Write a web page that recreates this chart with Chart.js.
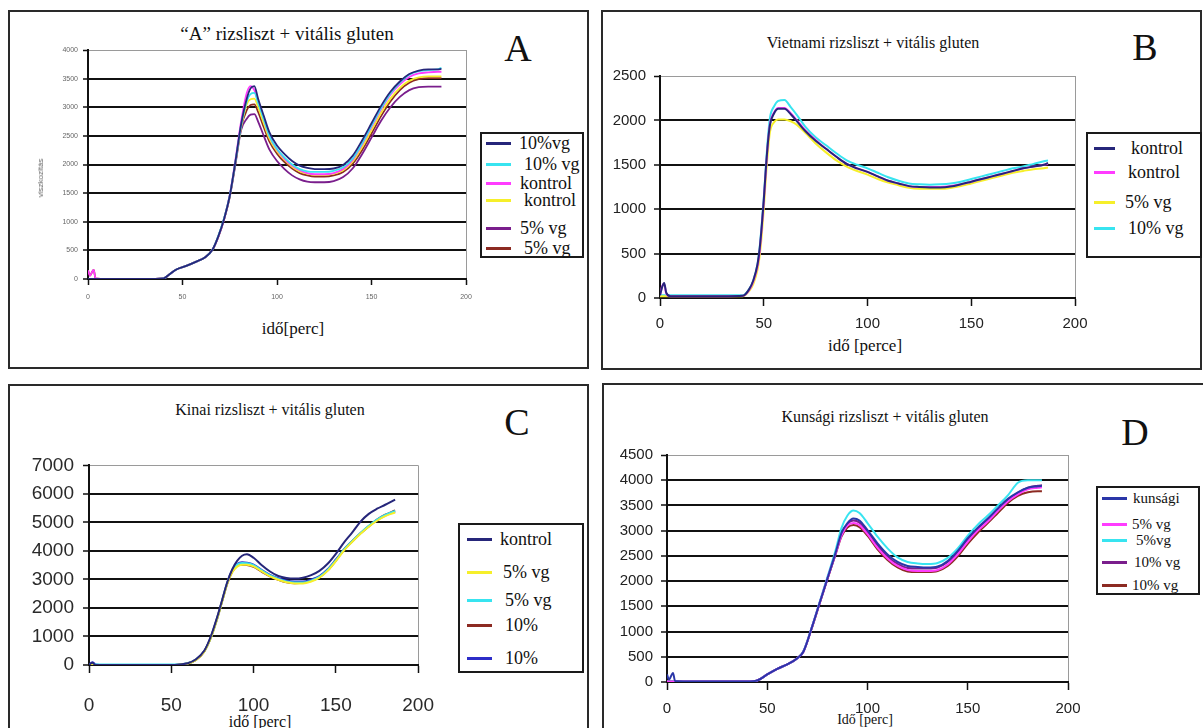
<!DOCTYPE html>
<html><head><meta charset="utf-8">
<script src="https://cdn.jsdelivr.net/npm/chart.js@4.4.1/dist/chart.umd.min.js"></script>
<style>
body{margin:0;width:1203px;height:728px;background:#fff;position:relative;overflow:hidden;font-family:"Liberation Serif","DejaVu Serif","Times New Roman",serif;}
.frame{position:absolute;border:2px solid #2a2a2a;box-sizing:border-box;}
.t{position:absolute;white-space:nowrap;color:#111;transform:translate(-50%,-50%);line-height:1;font-family:"Liberation Serif","DejaVu Serif",serif;}
canvas{position:absolute;}
.leg{position:absolute;border:2px solid #1a1a1a;background:#fff;box-sizing:border-box;}
.li{position:absolute;white-space:nowrap;line-height:1;color:#111;font-family:"Liberation Serif","DejaVu Serif",serif;}
.ln{position:absolute;height:3px;}
</style></head><body>
<div class="frame" style="left:8px;top:10px;width:581px;height:359px"></div>
<div class="frame" style="left:601px;top:10px;width:601px;height:360px"></div>
<div class="frame" style="left:8px;top:384px;width:581px;height:400px"></div>
<div class="frame" style="left:602px;top:383px;width:610px;height:400px"></div>
<div id="host"></div>
<script>
// ---------- DATA ----------
// Panel A
const xA = [0,1,3,4,10,20,30,40,43,47,52,57,62,66,69,72,75,78,81,84,86,88,90,93,96,100,104,108,112,116,120,125,130,135,140,145,150,155,160,165,170,175,180,185,187];
const aVg10a   = [0,0,0,0,0,0,0,10,80,170,230,300,380,520,750,1050,1450,2050,2700,3150,3330,3370,3150,2850,2560,2330,2180,2060,1980,1940,1920,1920,1930,1990,2150,2420,2720,3020,3270,3450,3580,3640,3660,3660,3670];
const aVg10b   = [0,0,0,0,0,0,0,10,80,170,230,300,380,520,760,1060,1460,2050,2680,3100,3230,3250,3080,2790,2500,2270,2120,2000,1920,1880,1870,1870,1890,1950,2100,2370,2680,2980,3240,3430,3570,3630,3650,3660,3690];
const aKontrolA= [150,60,160,10,0,0,0,10,80,170,230,300,380,520,750,1050,1470,2080,2750,3250,3370,3300,3100,2800,2500,2260,2100,1980,1900,1850,1830,1830,1850,1920,2080,2350,2660,2960,3220,3400,3530,3590,3610,3620,3620];
const aKontrolB= [0,0,0,0,0,0,0,10,80,170,230,300,380,520,750,1050,1450,2040,2650,3050,3140,3150,3000,2720,2450,2230,2080,1960,1880,1840,1820,1820,1840,1900,2050,2300,2600,2900,3150,3340,3460,3520,3540,3540,3540];
const aVg5a    = [0,0,0,0,0,0,0,10,80,170,230,300,380,520,740,1040,1430,2000,2600,2800,2870,2880,2750,2500,2260,2060,1920,1810,1740,1700,1690,1690,1710,1780,1930,2180,2470,2760,3000,3180,3300,3350,3360,3360,3360];
const aVg5b    = [150,60,160,10,0,0,0,10,80,170,230,300,380,520,750,1050,1450,2030,2650,2950,3040,3050,2920,2650,2400,2190,2040,1930,1850,1810,1790,1790,1810,1870,2010,2250,2540,2840,3100,3300,3430,3490,3510,3510,3510];
const labelsA = ['10%vg','10% vg','kontrol','kontrol','5% vg','5% vg'];
const ticksA = [0,500,1000,1500,2000,2500,3000,3500,4000];

// Panel B
const xB = [0,1,2,3,5,10,20,30,40,43,45,47,48,49,50,51,52,53,55,57,60,63,66,70,75,80,85,90,95,100,105,110,115,120,125,130,135,140,145,150,155,160,165,170,175,180,185,187];
const bKontrolA = [30,120,170,60,20,20,20,20,25,100,200,380,550,800,1100,1450,1750,1950,2080,2130,2130,2070,1990,1880,1770,1680,1590,1510,1460,1420,1370,1320,1290,1260,1250,1245,1245,1255,1280,1310,1340,1370,1400,1430,1460,1480,1500,1520];
const bKontrolB = [30,130,160,50,20,20,20,20,25,90,190,360,520,780,1080,1430,1740,1960,2090,2140,2140,2080,2000,1890,1780,1680,1590,1510,1460,1420,1370,1320,1290,1260,1250,1250,1250,1260,1280,1310,1340,1370,1400,1430,1460,1480,1500,1510];
const bVg5 = [20,20,20,20,20,20,20,20,20,80,160,320,470,700,1000,1350,1650,1870,1980,2010,2010,1990,1950,1860,1740,1640,1550,1480,1430,1390,1340,1300,1270,1240,1230,1230,1230,1240,1260,1290,1320,1350,1380,1410,1430,1450,1460,1470];
const bVg10 = [30,30,30,30,30,30,30,30,30,100,200,380,560,820,1120,1480,1800,2030,2160,2220,2230,2150,2060,1930,1810,1720,1630,1550,1500,1460,1410,1360,1320,1290,1280,1275,1280,1290,1310,1340,1370,1400,1430,1460,1480,1510,1540,1550];
const labelsB = ['kontrol','kontrol','5% vg','10% vg'];
const ticksB = [0,500,1000,1500,2000,2500];

// Panel C
const xC = [0,2,4,10,20,30,40,50,55,60,65,70,74,78,81,84,87,90,93,96,100,105,110,115,120,125,130,135,140,145,150,155,160,165,170,175,180,186];
const cKontrol = [0,80,0,0,0,0,0,0,20,60,200,500,1000,1700,2300,2900,3350,3650,3830,3880,3760,3500,3280,3120,3050,3030,3060,3150,3300,3550,3900,4300,4650,5030,5300,5480,5620,5800];
const cVg5a = [0,0,0,0,0,0,0,0,10,50,180,470,950,1650,2250,2850,3250,3450,3520,3520,3460,3280,3110,2990,2900,2860,2860,2930,3060,3300,3640,4020,4320,4600,4850,5060,5220,5350];
const cVg5b = [20,20,20,20,20,20,20,20,20,60,190,480,960,1660,2270,2880,3300,3520,3580,3570,3500,3310,3140,3020,2930,2890,2890,2960,3090,3330,3670,4050,4350,4630,4880,5100,5260,5400];
const cVg10a = [0,0,0,0,0,0,0,0,10,50,180,470,950,1640,2250,2850,3260,3470,3520,3510,3440,3270,3110,2990,2900,2870,2880,2950,3080,3320,3660,4040,4340,4620,4870,5100,5270,5420];
const cVg10b = [0,100,20,0,0,0,0,0,20,60,190,480,980,1680,2280,2880,3320,3540,3600,3590,3520,3330,3160,3040,2960,2930,2930,3000,3120,3360,3700,4060,4350,4620,4860,5080,5240,5380];
const labelsC = ['kontrol','5% vg','5% vg','10%','10%'];
const ticksC = [0,1000,2000,3000,4000,5000,6000,7000];

// Panel D
const xD = [0,1,3,4,10,20,30,40,45,50,55,60,65,68,72,76,80,84,87,90,93,96,100,105,110,115,120,125,130,135,140,145,150,155,160,165,170,175,180,185,187];
const dKunsagi = [150,50,180,20,10,10,10,10,30,150,260,350,470,600,1050,1550,2050,2550,2950,3150,3240,3200,3010,2750,2530,2380,2300,2280,2270,2290,2400,2600,2850,3060,3240,3440,3630,3760,3850,3880,3890];
const dVg5a = [10,10,10,10,10,10,10,10,30,150,260,350,470,600,1050,1550,2050,2530,2900,3100,3150,3110,2930,2660,2450,2300,2220,2200,2200,2220,2330,2530,2780,3000,3180,3390,3580,3720,3820,3850,3860];
const dVg5b = [10,10,10,10,10,10,10,10,30,150,260,350,470,610,1060,1570,2080,2600,3050,3300,3400,3350,3150,2880,2650,2470,2380,2350,2340,2360,2460,2650,2900,3120,3300,3500,3700,3950,4000,4000,4000];
const dVg10a = [10,10,10,10,10,10,10,10,30,150,260,350,470,600,1050,1550,2050,2540,2930,3130,3200,3160,2980,2710,2490,2340,2260,2250,2250,2270,2380,2570,2820,3040,3220,3420,3610,3750,3850,3890,3900];
const dVg10b = [10,10,10,10,10,10,10,10,30,150,260,350,470,600,1040,1540,2040,2520,2880,3060,3110,3070,2900,2630,2420,2270,2190,2180,2180,2200,2300,2490,2740,2960,3150,3350,3550,3690,3760,3780,3780];
const labelsD = ['kunsági','5% vg','5%vg','10% vg','10% vg'];
const ticksD = [0,500,1000,1500,2000,2500,3000,3500,4000,4500];

const xTicks = [0,50,100,150,200];

// ---------- LAYOUT / STYLE ----------
const NAVY='#26267a', CYAN='#38e4f0', MAG='#ff3cff', YEL='#f6ef2a', PUR='#7a1e8c', BRN='#8c2a22', BLUE='#2d2dc8', KUN='#2a36a8';
const panels = [
 {id:'A', xs:xA, series:[aVg10a,aVg10b,aKontrolA,aKontrolB,aVg5a,aVg5b], labels:labelsA, colors:[NAVY,CYAN,MAG,YEL,PUR,BRN], yt:ticksA,
  plot:{l:88,t:50,r:466,b:279}, font:7, fcol:'#666', ytl:5, ypad:5, xtl:6, xpad:8, lw:1.8,
  title:{text:'“A” rizsliszt + vitális gluten',x:287,y:33,size:19}, letter:{x:518,y:48},
  xtitle:{text:'idő[perc]',x:293,y:328,size:17},
  leg:{l:480,t:132,w:104,h:126,ys:[143,164,183,200,228,248],lx:4,lw:25,tx:[37,42,38,42,38,42],size:18}},
 {id:'B', xs:xB, series:[bKontrolA,bKontrolB,bVg5,bVg10], labels:labelsB, colors:[NAVY,MAG,YEL,CYAN], yt:ticksB,
  plot:{l:660,t:71,r:1075,b:298}, font:15, fcol:'#222', ytl:6, ypad:8, xtl:8, xpad:9, lw:2,
  title:{text:'Vietnami rizsliszt + vitális gluten',x:873,y:43,size:16}, letter:{x:1145,y:47},
  xtitle:{text:'idő [perce]',x:865,y:345,size:17},
  leg:{l:1086,t:132,w:116,h:126,ys:[148,172,202,228],lx:6,lw:21,tx:[43,40,37,40],size:18}},
 {id:'C', xs:xC, series:[cKontrol,cVg5a,cVg5b,cVg10a,cVg10b], labels:labelsC, colors:[NAVY,YEL,CYAN,BRN,BLUE], yt:ticksC,
  plot:{l:89,t:457,r:429,b:665}, font:19, fcol:'#2a2a2a', ytl:6, ypad:9, xtl:8, xpad:21, lw:2,
  title:{text:'Kinai rizsliszt + vitális gluten',x:270,y:410,size:16}, letter:{x:517,y:422},
  xtitle:{text:'idő [perc]',x:260,y:722,size:16},
  leg:{l:458,t:523,w:126,h:150,ys:[539,572,600,625,658],lx:7,lw:25,tx:[40,43,45,45,45],size:18}},
 {id:'D', xs:xD, series:[dKunsagi,dVg5a,dVg5b,dVg10a,dVg10b], labels:labelsD, colors:[KUN,MAG,CYAN,PUR,BRN], yt:ticksD,
  plot:{l:667,t:450,r:1068,b:682}, font:15, fcol:'#222', ytl:6, ypad:8, xtl:8, xpad:10, lw:2,
  title:{text:'Kunsági rizsliszt + vitális gluten',x:885,y:417,size:16}, letter:{x:1135,y:432},
  xtitle:{text:'Idő [perc]',x:865,y:720,size:14},
  leg:{l:1096,t:486,w:104,h:109,ys:[498,524,540,562,585],lx:4,lw:25,tx:[35,34,38,36,34],size:15}}
];

const host = document.getElementById('host');
function txt(t,x,y,size,extra){
  const d=document.createElement('div'); d.className='t'; d.textContent=t;
  d.style.left=x+'px'; d.style.top=y+'px'; d.style.fontSize=size+'px';
  if(extra) Object.assign(d.style,extra);
  host.appendChild(d); return d;
}

const PL=75, PT=12, PR=26, XH=50;
panels.forEach(p=>{
  txt(p.title.text,p.title.x,p.title.y,p.title.size);
  txt(p.id,p.letter.x,p.letter.y,38);
  txt(p.xtitle.text,p.xtitle.x,p.xtitle.y,p.xtitle.size);
  // legend
  const L=p.leg, box=document.createElement('div'); box.className='leg';
  Object.assign(box.style,{left:L.l+'px',top:L.t+'px',width:L.w+'px',height:L.h+'px'});
  p.labels.forEach((lab,i)=>{
    const cy=L.ys[i]-L.t-2;
    const ln=document.createElement('div'); ln.className='ln';
    Object.assign(ln.style,{left:L.lx+'px',top:(cy-1)+'px',width:L.lw+'px',background:p.colors[i]});
    box.appendChild(ln);
    const tt=document.createElement('div'); tt.className='li'; tt.textContent=lab;
    Object.assign(tt.style,{left:L.tx[i]+'px',top:(cy-L.size*0.5)+'px',fontSize:L.size+'px'});
    box.appendChild(tt);
  });
  host.appendChild(box);

  const pw=p.plot.r-p.plot.l, ph=p.plot.b-p.plot.t;
  const cv=document.createElement('canvas');
  const W=pw+PL+PR, H=ph+PT+XH;
  cv.width=W; cv.height=H;
  Object.assign(cv.style,{left:(p.plot.l-PL)+'px',top:(p.plot.t-PT)+'px',width:W+'px',height:H+'px'});
  host.appendChild(cv);
  const ymax=p.yt[p.yt.length-1];
  const fnt={family:'"Liberation Sans", Arial, sans-serif',size:p.font};
  new Chart(cv,{
    type:'line',
    data:{datasets:p.series.map((ys,i)=>({
      label:p.labels[i],
      data:p.xs.map((x,k)=>({x:x,y:ys[k]})),
      borderColor:p.colors[i], borderWidth:p.lw, pointRadius:0, fill:false,
      cubicInterpolationMode:'monotone'
    }))},
    options:{
      responsive:false, animation:false, devicePixelRatio:1,
      layout:{padding:{left:0,top:PT,right:PR,bottom:0}},
      plugins:{legend:{display:false},tooltip:{enabled:false},title:{display:false}},
      scales:{
        x:{type:'linear',min:0,max:200,
          afterBuildTicks:s=>{s.ticks=xTicks.map(v=>({value:v}));},
          afterFit:s=>{s.height=XH;},
          ticks:{autoSkip:false,maxRotation:0,minRotation:0,font:fnt,color:p.fcol,padding:p.xpad,callback:v=>String(v)},
          grid:{drawOnChartArea:true,tickLength:p.xtl,tickColor:'#111',tickWidth:1.5,
            color:c=>c.tick&&c.tick.value===200?'#9a9a9a':'rgba(0,0,0,0)',lineWidth:1},
          border:{display:true,color:'#111',width:2}},
        y:{type:'linear',min:0,max:ymax,
          afterBuildTicks:s=>{s.ticks=p.yt.map(v=>({value:v}));},
          afterFit:s=>{s.width=PL;},
          ticks:{autoSkip:false,font:fnt,color:p.fcol,padding:p.ypad,callback:v=>String(v)},
          grid:{tickLength:p.ytl,tickColor:'#111',tickWidth:1.5,
            color:c=>c.tick&&c.tick.value===ymax?'#9a9a9a':'#111',
            lineWidth:c=>c.tick&&c.tick.value===ymax?1:2},
          border:{display:true,color:'#111',width:2}}
      }
    }
  });
});
// small rotated y-axis title of panel A
txt('viszkozitás',41,178,8,{transform:'translate(-50%,-50%) rotate(-90deg)',fontFamily:'"Liberation Sans", Arial, sans-serif',color:'#666'});
</script>
</body></html>
